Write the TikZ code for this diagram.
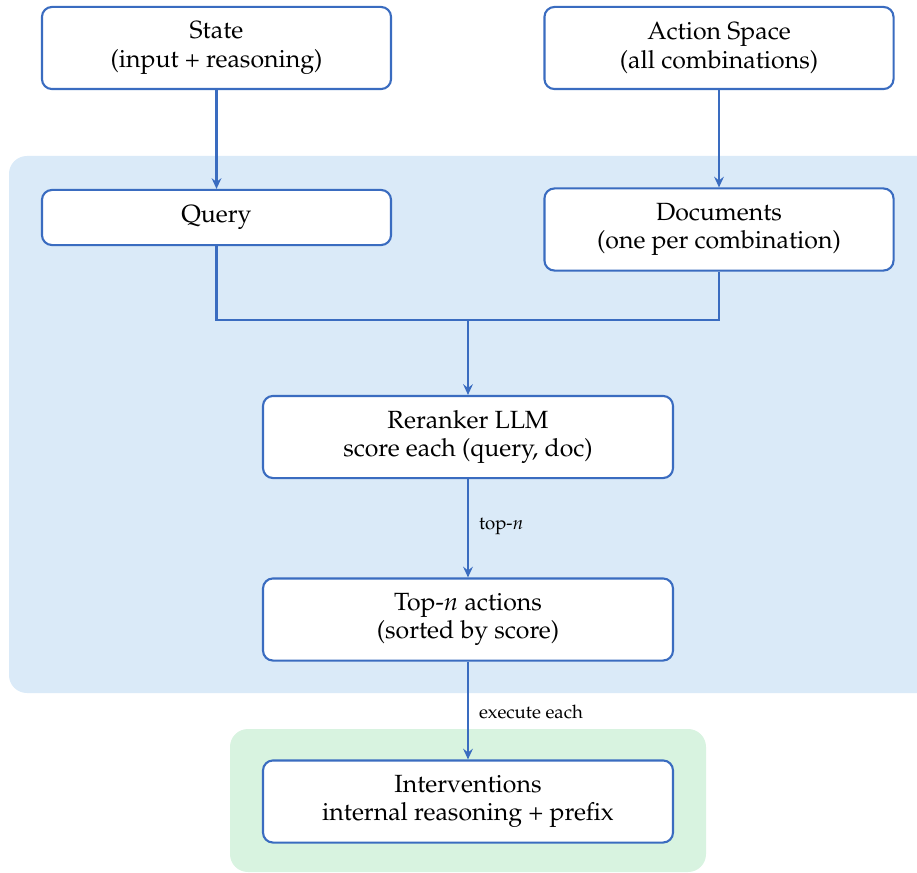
\documentclass[tikz,border=0pt]{standalone}
\usepackage[T1]{fontenc}
\usepackage{mathpazo}
\usetikzlibrary{arrows.meta}
\definecolor{bord}{RGB}{58,108,192}
\definecolor{bluebg}{RGB}{218,234,248}
\definecolor{greenbg}{RGB}{216,243,224}
\tikzset{
  boxnode/.style={draw=bord, line width=0.9pt, fill=white, rounded corners=4.3pt,
    align=center, inner sep=0pt, minimum width=150.1pt, minimum height=35.3pt,
    font=\fontsize{10.7}{12.2}\selectfont},
  widebox/.style={boxnode, minimum width=176.3pt},
  conn/.style={draw=bord, line width=0.9pt},
  arr/.style={conn, -{Stealth[length=4.6pt, width=4.2pt, inset=1.6pt]}},
  lbl/.style={anchor=west, inner sep=0pt, font=\fontsize{8}{9.6}\selectfont},
  region/.style={rounded corners=7.7pt}
}
\begin{document}
\begin{tikzpicture}[x=0.43pt, y=-0.43pt]
\useasboundingbox (0,0) rectangle (917,873);
\begin{scope}
\clip (0,0) rectangle (917,873);
\fill[bluebg, region] (9,156) rectangle (950,693);
\fill[greenbg, region] (230,729) rectangle (706,872);
\end{scope}
\node[boxnode] (state) at (216.5,48) {State\\(input + reasoning)};
\node[boxnode] (action) at (719,48) {Action Space\\(all combinations)};
\node[boxnode, minimum height=23.7pt] (query) at (216.5,217.5) {Query};
\node[boxnode] (docs) at (719,229.5) {Documents\\(one per combination)};
\node[widebox] (rerank) at (468,437) {Reranker LLM\\score each (query, doc)};
\node[widebox] (topn) at (468,619.5) {Top-$n$ actions\\(sorted by score)};
\node[widebox] (interv) at (468,801.5) {Interventions\\internal reasoning + prefix};
\coordinate (join) at (468,320);
\draw[arr] (state) -- (query);
\draw[arr] (action) -- (docs);
\draw[conn] (query.south) |- (join) -| (docs.south);
\draw[arr] (join) -- (rerank.north);
\draw[arr] (rerank) -- node[lbl, pos=0.48, xshift=4.3pt] (l1) {top-$n$} (topn);
\draw[arr] (topn) -- node[lbl, pos=0.52, xshift=4.3pt] (l2) {execute each} (interv);
\end{tikzpicture}
\end{document}
